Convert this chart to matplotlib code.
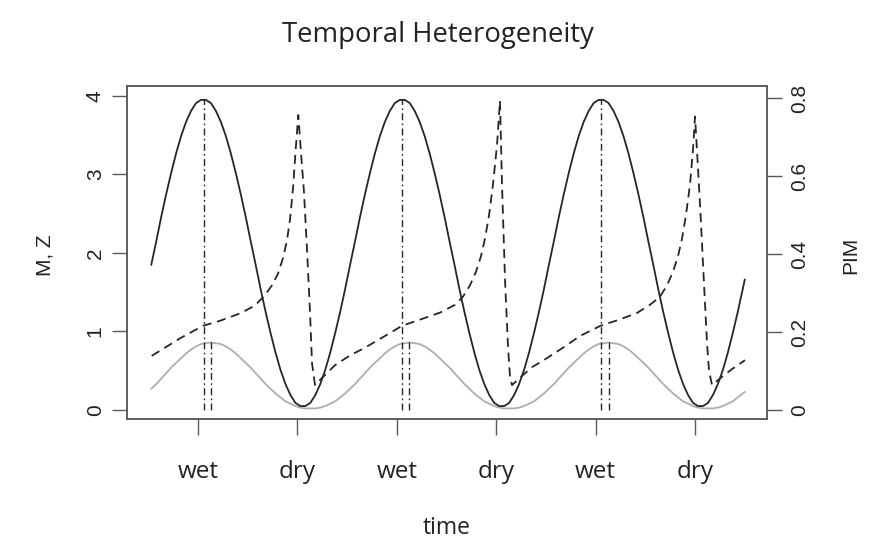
import matplotlib
matplotlib.use("Agg")
import matplotlib.pyplot as plt

# ---------------- data ----------------
time = [0.53, 0.58, 0.63, 0.68, 0.73, 0.78, 0.83, 0.88, 0.93, 0.98,
        1.03, 1.08, 1.13, 1.18, 1.23, 1.28, 1.33, 1.38, 1.43, 1.48,
        1.53, 1.58, 1.63, 1.68, 1.73, 1.78, 1.83, 1.88, 1.93, 1.98,
        2.03, 2.08, 2.13, 2.18, 2.23, 2.28, 2.33, 2.38, 2.43, 2.48,
        2.53, 2.58, 2.63, 2.68, 2.73, 2.78, 2.83, 2.88, 2.93, 2.98,
        3.03, 3.08, 3.13, 3.18, 3.23, 3.28, 3.33, 3.38, 3.43, 3.48,
        3.53, 3.58, 3.63, 3.68, 3.73, 3.78, 3.83, 3.88, 3.93, 3.98,
        4.03, 4.08, 4.13, 4.18, 4.23, 4.28, 4.33, 4.38, 4.43, 4.48,
        4.53, 4.58, 4.63, 4.68, 4.73, 4.78, 4.83, 4.88, 4.93, 4.98,
        5.03, 5.08, 5.13, 5.18, 5.23, 5.28, 5.33, 5.38, 5.43, 5.48,
        5.53, 5.58, 5.63, 5.68, 5.73, 5.78, 5.83, 5.88, 5.93, 5.98,
        6.03, 6.08, 6.13, 6.18, 6.23, 6.28, 6.33, 6.38, 6.43, 6.48,
        6.50]

M = [1.85, 2.15, 2.46, 2.75, 3.02, 3.27, 3.49, 3.67, 3.81, 3.91,
     3.95, 3.95, 3.91, 3.81, 3.67, 3.49, 3.27, 3.02, 2.75, 2.46,
     2.15, 1.85, 1.54, 1.25, 0.98, 0.73, 0.51, 0.33, 0.19, 0.09,
     0.05, 0.05, 0.09, 0.19, 0.33, 0.51, 0.73, 0.98, 1.25, 1.54,
     1.85, 2.15, 2.46, 2.75, 3.02, 3.27, 3.49, 3.67, 3.81, 3.91,
     3.95, 3.95, 3.91, 3.81, 3.67, 3.49, 3.27, 3.02, 2.75, 2.46,
     2.15, 1.85, 1.54, 1.25, 0.98, 0.73, 0.51, 0.33, 0.19, 0.09,
     0.05, 0.05, 0.09, 0.19, 0.33, 0.51, 0.73, 0.98, 1.25, 1.54,
     1.85, 2.15, 2.46, 2.75, 3.02, 3.27, 3.49, 3.67, 3.81, 3.91,
     3.95, 3.95, 3.91, 3.81, 3.67, 3.49, 3.27, 3.02, 2.75, 2.46,
     2.15, 1.85, 1.54, 1.25, 0.98, 0.73, 0.51, 0.33, 0.19, 0.09,
     0.05, 0.05, 0.09, 0.19, 0.33, 0.51, 0.73, 0.98, 1.25, 1.54,
     1.66]

Z = [0.27, 0.33, 0.40, 0.47, 0.54, 0.60, 0.66, 0.72, 0.77, 0.81,
     0.84, 0.85, 0.86, 0.85, 0.84, 0.81, 0.77, 0.72, 0.66, 0.60,
     0.54, 0.47, 0.40, 0.33, 0.27, 0.21, 0.16, 0.11, 0.08, 0.05,
     0.03, 0.02, 0.02, 0.02, 0.03, 0.05, 0.08, 0.11, 0.16, 0.21,
     0.27, 0.33, 0.40, 0.47, 0.54, 0.60, 0.66, 0.72, 0.77, 0.81,
     0.84, 0.85, 0.86, 0.85, 0.84, 0.81, 0.77, 0.72, 0.66, 0.60,
     0.54, 0.47, 0.40, 0.33, 0.27, 0.21, 0.16, 0.11, 0.08, 0.05,
     0.03, 0.02, 0.02, 0.02, 0.03, 0.05, 0.08, 0.11, 0.16, 0.21,
     0.27, 0.33, 0.40, 0.47, 0.54, 0.60, 0.66, 0.72, 0.77, 0.81,
     0.84, 0.85, 0.86, 0.85, 0.84, 0.81, 0.77, 0.72, 0.66, 0.60,
     0.54, 0.47, 0.40, 0.33, 0.27, 0.21, 0.16, 0.11, 0.08, 0.05,
     0.03, 0.02, 0.02, 0.02, 0.03, 0.05, 0.08, 0.11, 0.16, 0.21,
     0.23]

pim_time = [0.534, 0.668, 0.819, 0.970, 1.050, 1.221, 1.423, 1.573, 1.674, 1.744,
            1.805, 1.855, 1.895, 1.926, 1.956, 1.986, 2.009, 2.036, 2.066, 2.097,
            2.127, 2.147, 2.177,
            2.258, 2.378, 2.529, 2.680, 2.881, 3.052, 3.233, 3.435, 3.586, 3.666,
            3.736, 3.797, 3.847, 3.887, 3.928, 3.968, 4.008, 4.038, 4.058, 4.089,
            4.119, 4.139, 4.159,
            4.240, 4.360, 4.491, 4.672, 4.843, 5.048, 5.239, 5.416, 5.547, 5.648,
            5.718, 5.779, 5.829, 5.869, 5.909, 5.950, 5.980, 6.000, 6.030, 6.060,
            6.091, 6.121, 6.141, 6.171, 6.252, 6.372, 6.503]

PIM = [0.139, 0.160, 0.184, 0.205, 0.216, 0.229, 0.248, 0.268, 0.295, 0.320,
       0.350, 0.390, 0.435, 0.490, 0.570, 0.680, 0.757, 0.660, 0.560, 0.410,
       0.250, 0.120, 0.064,
       0.085, 0.115, 0.140, 0.160, 0.190, 0.216, 0.232, 0.250, 0.270, 0.291,
       0.320, 0.355, 0.395, 0.440, 0.500, 0.580, 0.680, 0.794, 0.580, 0.330,
       0.160, 0.085, 0.064,
       0.083, 0.110, 0.130, 0.160, 0.190, 0.216, 0.232, 0.249, 0.270, 0.291,
       0.320, 0.355, 0.395, 0.440, 0.500, 0.580, 0.670, 0.753, 0.620, 0.480,
       0.320, 0.170, 0.100, 0.064, 0.081, 0.105, 0.128]

peak_time_M = [1.06, 3.055, 5.05]
peak_M = [3.96, 3.96, 3.96]
peak_time_Z = [1.13, 3.125, 5.135]
peak_Z = [0.86, 0.86, 0.86]

season_pos = [1, 2, 3, 4, 5, 6]
season_labels = ["wet", "dry", "wet", "dry", "wet", "dry"]
left_ticks = [0, 1, 2, 3, 4]
left_labels = ["0", "1", "2", "3", "4"]
right_ticks = [0, 0.2, 0.4, 0.6, 0.8]
right_labels = ["0", "0.2", "0.4", "0.6", "0.8"]

# ---------------- drawing ----------------
W, H = 886, 540
fig = plt.figure(figsize=(W / 100, H / 100), dpi=100)
fig.patch.set_facecolor("white")

L, R, T, B = 127, 767, 86, 419
ax = fig.add_axes([L / W, 1 - B / H, (R - L) / W, (B - T) / H])

dark = "#262626"
frame = "#5a5a5a"
label_font = "Open Sans"
num_font = "Liberation Sans"

ax.plot(time, Z, color="#aeaeae", lw=1.3)
ax.plot(time, M, color=dark, lw=1.3)
dd = (0, (5.0, 2.4, 1.2, 2.4))
ax.vlines(peak_time_M, 0, peak_M, colors=dark, lw=1.0, linestyles=[dd])
ax.vlines(peak_time_Z, 0, peak_Z, colors=dark, lw=1.0, linestyles=[dd])

ax.set_xlim(0.2857, 6.724)
ax.set_ylim(-0.115, 4.127)

ax2 = ax.twinx()
ax2.plot(pim_time, PIM, color=dark, lw=1.3, dashes=(5.0, 3.2))
ax2.set_ylim(-0.0231, 0.8316)

for a in (ax, ax2):
    for s in a.spines.values():
        s.set_color(frame)
        s.set_linewidth(1.1)

ax.set_xticks(season_pos)
ax.set_xticklabels(season_labels, fontfamily=label_font, fontsize=17.5, color="#222222")
ax.set_yticks(left_ticks)
ax.set_yticklabels(left_labels, fontfamily=num_font, fontsize=15, color="#222222",
                   rotation=90, va="center")
ax2.set_yticks(right_ticks)
ax2.set_yticklabels(right_labels, fontfamily=num_font, fontsize=15, color="#222222",
                    rotation=90, va="center")

ax.tick_params(axis="x", direction="out", length=11.5, width=1.0, color=frame, pad=18)
ax.tick_params(axis="y", direction="out", length=11, width=1.0, color=frame, pad=5)
ax2.tick_params(axis="y", direction="out", length=11, width=1.0, color=frame, pad=5.5)

fig.text(438 / W, 1 - 42 / H, "Temporal Heterogeneity", ha="center", va="baseline",
         fontfamily=label_font, fontsize=19.8, color="#222222")
fig.text(447 / W, 1 - 534 / H, "time", ha="center", va="baseline",
         fontfamily=label_font, fontsize=16.5, color="#222222")
fig.text(45 / W, 1 - 255 / H, "M, Z", ha="center", va="center", rotation=90,
         fontfamily=num_font, fontsize=15, color="#222222")
fig.text(851 / W, 1 - 255 / H, "PIM", ha="center", va="center", rotation=90,
         fontfamily=num_font, fontsize=15, color="#222222")

fig.savefig("out.png", dpi=100, facecolor="white")
